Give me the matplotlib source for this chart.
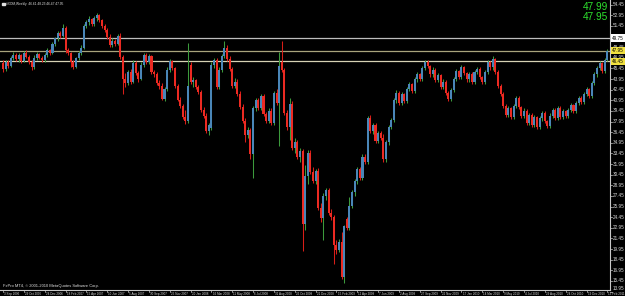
import matplotlib
matplotlib.use("Agg")
import matplotlib.pyplot as plt
import numpy as np

# ---------------- data (weekly OHLC) ----------------
open_ = [46.2,45.4,46.3,45.8,46.9,47.4,46.8,47.3,46.5,47.6,47.1,46.4,45.6,47.0,47.5,47.0,46.6,47.4,48.0,47.7,
         48.9,49.7,50.5,50.1,51.2,48.0,47.6,46.3,45.7,46.9,47.6,48.4,51.5,52.0,52.4,51.8,52.6,53.0,52.3,51.4,
         50.9,49.9,48.8,49.4,48.9,50.0,47.1,44.0,43.4,45.0,43.6,46.2,44.8,44.0,46.0,47.3,46.4,47.2,45.0,44.6,
         43.4,43.0,41.2,42.6,45.3,46.5,45.5,43.0,41.0,40.2,38.6,38.0,46.0,43.5,43.8,42.8,42.1,39.6,38.8,36.6,
         37.0,46.0,46.6,42.8,45.3,47.2,48.4,46.8,45.4,43.0,43.6,41.8,40.0,38.0,36.1,36.8,33.4,39.8,41.0,39.9,
         41.5,39.0,38.0,39.5,37.7,42.0,40.6,46.3,45.2,39.2,37.2,40.5,34.2,35.0,33.0,33.8,23.5,30.2,33.5,30.8,
         29.6,31.0,25.8,24.3,27.5,28.3,25.0,24.5,20.5,19.8,21.0,16.0,24.2,22.9,26.0,28.0,29.5,31.2,30.0,33.0,
         32.2,38.5,36.6,37.5,35.2,36.3,35.7,32.6,35.0,37.2,38.2,41.0,42.0,40.6,41.8,40.9,42.5,43.2,42.3,43.9,
         44.6,44.0,45.5,46.4,45.8,44.6,45.3,43.8,44.5,42.9,43.6,42.0,41.2,42.4,44.0,45.1,44.3,45.6,44.8,43.9,
         44.7,43.5,44.9,45.4,44.2,43.6,45.0,46.3,45.6,46.8,44.9,43.0,41.8,40.2,38.9,39.8,38.6,40.1,41.3,40.0,
         38.7,39.5,37.8,38.9,37.5,38.6,37.2,38.4,39.2,38.0,37.3,38.8,39.6,38.5,39.9,38.6,39.4,38.8,39.6,40.3,
         39.5,40.6,41.3,40.7,41.8,42.5,41.6,43.4,44.6,45.5,46.2,45.1,46.61]
high = [46.6,46.6,46.7,47.2,47.8,47.7,47.6,47.5,47.9,48.0,47.4,46.7,47.3,47.8,47.7,47.2,47.6,48.3,48.2,49.2,
        49.9,50.8,50.7,51.7,51.5,48.4,47.8,46.6,47.1,47.9,48.7,51.8,52.3,52.8,52.6,52.9,53.3,53.1,52.5,51.8,
        51.2,50.3,49.7,49.6,50.3,50.4,47.4,44.8,45.3,45.4,46.6,46.5,45.1,46.3,47.6,47.6,47.5,47.4,45.3,45.0,
        43.8,43.4,42.9,45.6,46.8,46.7,45.7,43.3,41.4,40.5,39.6,49.0,46.3,44.2,44.0,43.1,42.4,40.0,39.1,37.8,
        46.4,47.0,46.9,45.6,47.5,49.4,48.7,47.2,45.7,44.1,43.9,42.2,40.4,38.4,37.2,37.1,40.1,41.3,41.3,41.8,
        41.8,39.3,39.8,39.8,42.3,42.5,47.8,49.4,45.5,39.6,41.3,40.8,35.6,35.3,34.2,34.1,31.8,33.9,33.9,31.5,
        31.3,31.4,26.4,27.9,28.6,28.5,25.6,24.8,21.2,21.4,22.3,23.4,24.5,27.3,28.3,29.8,31.5,31.6,33.3,33.4,
        38.8,38.9,37.8,37.8,36.6,36.6,36.2,35.3,37.5,38.5,41.3,42.4,42.3,42.1,42.0,42.8,43.5,43.4,44.2,44.9,
        44.8,45.8,46.7,46.6,46.0,45.6,45.5,44.8,44.7,43.9,43.8,42.3,42.7,44.3,45.4,45.3,45.9,45.8,45.0,45.0,
        44.9,45.2,45.7,45.6,44.4,45.3,46.6,46.5,47.2,47.0,45.2,43.3,42.1,40.5,40.1,40.0,40.4,41.6,41.5,40.2,
        39.8,39.7,39.2,39.1,38.9,38.8,38.7,39.5,39.4,38.2,39.1,39.9,39.8,40.2,40.1,39.7,39.6,39.9,40.6,40.5,
        40.9,41.6,41.5,42.1,42.8,42.7,43.7,44.9,45.8,46.5,46.4,46.9,48.23]
low = [45.0,45.1,45.5,45.6,46.6,46.5,46.4,46.2,46.3,46.9,46.1,45.2,45.4,46.7,46.8,46.3,46.4,47.1,47.4,47.5,
       48.6,49.4,49.8,49.9,47.7,47.3,45.7,45.4,45.5,46.6,47.3,48.2,51.1,51.6,51.5,51.5,52.2,52.0,51.1,50.6,
       49.6,48.5,48.5,48.6,48.7,46.8,41.9,42.9,43.1,43.3,43.4,44.5,43.6,43.8,45.7,46.1,46.1,44.7,44.3,43.1,
       42.6,41.0,40.9,42.3,45.0,45.2,42.7,40.8,39.9,38.3,37.6,37.7,43.2,42.9,42.5,41.8,39.3,38.5,36.3,36.0,
       36.7,45.5,42.5,42.5,45.0,46.9,46.5,45.1,42.7,42.7,41.5,39.7,37.7,35.0,35.6,32.6,30.0,39.5,39.6,39.6,
       38.7,37.7,37.7,37.4,37.4,40.3,34.5,44.9,38.9,36.8,35.3,33.9,33.5,32.7,32.3,19.7,22.6,29.1,30.5,29.3,
       29.2,25.5,23.8,21.2,26.9,24.7,24.0,17.9,19.3,19.5,15.7,15.2,22.6,22.6,25.7,27.4,29.1,29.7,29.7,31.9,
       32.0,36.3,36.2,34.9,34.9,35.4,32.2,32.3,34.6,36.9,37.9,40.6,40.3,40.3,40.6,40.6,42.2,42.0,42.0,43.6,
       43.7,43.7,45.2,45.5,44.3,44.3,43.5,43.5,42.6,42.6,41.7,40.9,40.9,42.1,43.7,44.0,44.0,44.5,43.6,43.6,
       43.2,43.2,44.6,43.9,43.3,43.3,44.7,45.3,45.3,44.6,42.7,41.5,39.9,38.6,38.6,38.3,38.3,39.8,39.7,38.4,
       38.4,37.5,37.5,37.2,37.2,36.9,36.9,38.1,37.7,37.0,37.0,38.5,38.2,38.2,38.3,38.3,38.5,38.5,39.3,39.2,
       39.2,40.3,40.4,40.4,41.5,41.3,41.3,43.1,44.3,45.2,44.8,44.8,46.47]
close = [45.4,46.3,45.8,46.9,47.4,46.8,47.3,46.5,47.6,47.1,46.4,45.6,47.0,47.5,47.0,46.6,47.4,48.0,47.7,48.9,
         49.7,50.5,50.1,51.2,48.0,47.6,46.3,45.7,46.9,47.6,48.3,51.5,52.0,52.4,51.8,52.6,53.0,52.3,51.4,50.9,
         49.9,48.8,49.4,48.9,50.0,47.1,44.0,43.4,45.0,43.6,46.2,44.8,44.0,46.0,47.3,46.4,47.2,45.0,44.6,43.4,
         43.0,41.2,42.6,45.3,46.5,45.5,43.0,41.0,40.2,38.6,38.0,43.0,43.5,43.8,42.8,42.1,39.6,38.8,36.6,37.4,
         46.0,46.6,42.8,45.3,47.2,48.4,46.8,45.4,43.0,43.6,41.8,40.0,38.0,36.1,36.8,33.4,39.8,41.0,39.9,41.5,
         39.0,38.0,39.5,37.7,42.0,40.6,45.8,45.2,39.2,37.2,40.5,34.2,35.0,33.0,33.8,23.5,30.2,33.5,30.8,29.6,
         31.0,25.8,24.3,27.5,28.3,25.0,24.5,20.5,19.8,21.0,16.0,23.2,22.9,26.0,28.0,29.5,31.2,30.0,33.0,32.2,
         38.5,36.6,37.5,35.2,36.3,35.7,32.6,35.0,37.2,38.2,41.0,42.0,40.6,41.8,40.9,42.5,43.2,42.3,43.9,44.6,
         44.0,45.5,46.4,45.8,44.6,45.3,43.8,44.5,42.9,43.6,42.0,41.2,42.4,44.0,45.1,44.3,45.6,44.8,43.9,44.7,
         43.5,44.9,45.4,44.2,43.6,45.0,46.3,45.6,46.8,44.9,43.0,41.8,40.2,38.9,39.8,38.6,40.1,41.3,40.0,38.7,
         39.5,37.8,38.9,37.5,38.6,37.2,38.4,39.2,38.0,37.3,38.8,39.6,38.5,39.9,38.6,39.4,38.8,39.6,40.3,39.5,
         40.6,41.3,40.7,41.8,42.5,41.6,43.4,44.6,45.5,46.2,45.1,46.6,47.95]

date_labels = ["3 Sep 2006", "29 Oct 2006", "24 Dec 2006", "18 Feb 2007", "15 Apr 2007", "10 Jun 2007",
               "5 Aug 2007", "30 Sep 2007", "25 Nov 2007", "20 Jan 2008", "16 Mar 2008", "11 May 2008",
               "6 Jul 2008", "31 Aug 2008", "26 Oct 2008", "21 Dec 2008", "15 Feb 2009", "12 Apr 2009",
               "7 Jun 2009", "2 Aug 2009", "27 Sep 2009", "22 Nov 2009", "17 Jan 2010", "14 Mar 2010",
               "9 May 2010", "4 Jul 2010", "29 Aug 2010", "24 Oct 2010", "19 Dec 2010", "13 Feb 2011"]
price_ticks = [13.95 + 1.5 * k for k in range(28)]
hlines = [49.75, 47.95, 46.45]
hline_labels = ["49.75", "47.95", "46.45"]
ask_price, bid_price = "47.99", "47.95"
header = "#XOM,Weekly  46.61 48.23 46.47 47.95"
copyright_text = "FxPro MT4, \u00a9 2001-2010 MetaQuotes Software Corp."

# ---------------- figure ----------------
W, H = 625, 296
fig = plt.figure(figsize=(W / 100, H / 100), dpi=100, facecolor="black")
ax_l, ax_r, ax_t, ax_b = 0, 610, 0, 290
ax = fig.add_axes([ax_l / W, 1 - ax_b / H, (ax_r - ax_l) / W, (ax_b - ax_t) / H])
ax.set_facecolor("black")
for s in ["top", "left"]:
    ax.spines[s].set_visible(False)
for s in ["right", "bottom"]:
    ax.spines[s].set_color("#c8c8c8")
    ax.spines[s].set_linewidth(0.8)

o = np.array(open_); h = np.array(high); l = np.array(low); c = np.array(close)
n = len(c)
x = np.arange(n)
up = c >= o
bull_body, bull_wick = "#4a86b8", "#3c9a3c"
bear_body, bear_wick = "#ec2a22", "#d81e18"

ax.vlines(x[up], l[up], h[up], colors=bull_wick, linewidth=0.75, zorder=2)
ax.vlines(x[~up], l[~up], h[~up], colors=bear_wick, linewidth=0.75, zorder=2)
body_lo = np.minimum(o, c)
body_h = np.maximum(np.abs(c - o), 0.14)
ax.bar(x[up], body_h[up], bottom=body_lo[up], width=0.78, color=bull_body, linewidth=0, zorder=3)
ax.bar(x[~up], body_h[~up], bottom=body_lo[~up], width=0.78, color=bear_body, linewidth=0, zorder=3)

# pixel mapping: bar i at px 3 + 2.605 i ; price 13.95 at y=291.5, 0.14124 per px
px_per_bar = 2.605
ax.set_xlim(-3 / px_per_bar, (ax_r - 3) / px_per_bar)
ppx = 0.14124
ax.set_ylim(13.95 + (291.5 - ax_b) * ppx, 13.95 + (291.5 - ax_t) * ppx)
ax.set_xticks([]); ax.set_yticks([])

line_cols = ["#bdbdbd", "#a8a47c", "#d6d2b4"]
for v, col in zip(hlines, line_cols):
    ax.axhline(v, color=col, linewidth=0.9, zorder=1)

fnt = "Liberation Sans"
ytr = ax.get_yaxis_transform()
for k, v in enumerate(price_ticks):
    dy = 2.2 if k == 0 else 0  # lowest label sits just above the time scale
    ax.annotate("%.2f" % v, xy=(1.0, v), xycoords=ytr, xytext=(2.2, dy), textcoords="offset points",
                fontsize=3.3, color="#d8d8d8", va="center", ha="left", family=fnt, annotation_clip=False)
    ax.plot([1.0, 1.004], [v, v], transform=ytr, color="#c8c8c8", lw=0.5, clip_on=False)
box_styles = [("white", "black"), ("#f0e040", "black"), ("#f0e040", "black")]
for v, t, (bg, fg) in zip(hlines, hline_labels, box_styles):
    ax.annotate(t, xy=(1.0, v), xycoords=ytr, xytext=(1.6, 0), textcoords="offset points",
                fontsize=3.3, color=fg, va="center", ha="left", family=fnt, annotation_clip=False,
                bbox=dict(boxstyle="square,pad=0.25", fc=bg, ec="none"), zorder=10)

# date labels
xtr = ax.get_xaxis_transform()
for k, lab in enumerate(date_labels):
    xi = 8 * k
    ax.annotate(lab, xy=(xi, 0), xycoords=xtr, xytext=(0.8, -1.3), textcoords="offset points",
                fontsize=2.2, color="#d8d8d8", va="top", ha="left", family=fnt, annotation_clip=False)
    ax.plot([xi, xi], [0, -0.008], transform=xtr, color="#c8c8c8", lw=0.5, clip_on=False)

# texts
fig.text(608 / W, 1 - 6.5 / H, ask_price, color="#2ee02e", fontsize=7.3, ha="right", va="center", family=fnt)
fig.text(608 / W, 1 - 17.5 / H, bid_price, color="#2ee02e", fontsize=7.3, ha="right", va="center", family=fnt)
fig.text(6 / W, 1 - 3.5 / H, header, color="#e0e0e0", fontsize=2.3, ha="left", va="center", family=fnt)
fig.patches.append(matplotlib.patches.Rectangle((2 / W, 1 - 5 / H), 2.5 / W, 2.5 / H,
                                                transform=fig.transFigure, color="#e0e0e0"))
fig.text(3 / W, 1 - 285.5 / H, copyright_text, color="#e0e0e0", fontsize=2.9, ha="left", va="center",
         family=fnt)

fig.savefig("out.png", dpi=100, facecolor="black")
